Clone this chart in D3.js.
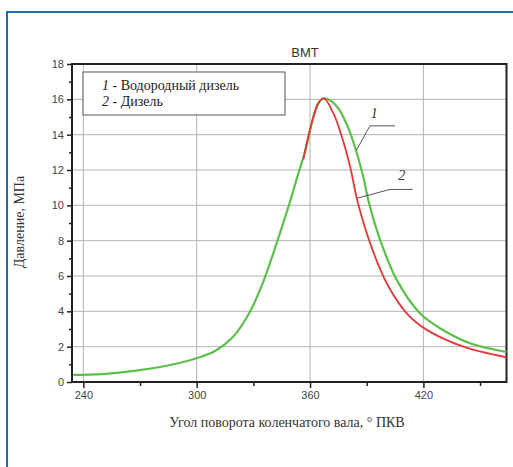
<!DOCTYPE html>
<html>
<head>
<meta charset="utf-8">
<script src="https://cdn.jsdelivr.net/npm/d3@7"></script>
<style>
  body { margin: 0; background: #fff; }
  .tick text { font-family: "Liberation Sans", Arial, sans-serif; font-size: 11px; fill: #444; }
</style>
</head>
<body>
<svg id="chart" width="513" height="467"></svg>
<script>
// hydrogen diesel (1), angle deg / pressure MPa
var angle1 = [234.7, 250, 268, 286, 300, 310.6, 319.4, 328.2, 335, 339, 344, 349.4, 353.8, 357.8, 361.8, 365.3, 368, 374.2, 379.4, 383.8, 388.2, 391.3, 397.1, 405.9, 418.2, 428.8, 444.7, 464];
var press1 = [0.40, 0.45, 0.64, 0.96, 1.34, 1.81, 2.57, 3.98, 5.6, 6.8, 8.4, 10.2, 11.8, 13.2, 15.0, 15.9, 16.05, 15.6, 14.6, 13.3, 11.6, 10.1, 8.05, 5.78, 3.89, 3.04, 2.19, 1.70];
// diesel (2), only where it differs from 1
var angle2 = [356.5, 358, 361, 364.4, 367.4, 372.4, 376.8, 381.2, 385.2, 391.8, 400.6, 411.2, 421.8, 441.2, 464];
var press2 = [12.6, 13.4, 14.7, 15.8, 16.05, 15.2, 13.9, 12.2, 10.2, 7.86, 5.59, 3.89, 2.95, 2.0, 1.40];

var xTicks = [240, 300, 360, 420];
var yTicks = [0, 2, 4, 6, 8, 10, 12, 14, 16, 18];

// leader lines (angle, MPa) and label position
var notes = [
  {label: "1", pts: [[384.5, 13.1], [391.7, 14.5], [405, 14.5]], at: [394, 14.95]},
  {label: "2", pts: [[384.8, 10.4], [402.3, 10.9], [414.4, 10.9]], at: [408.6, 11.45]}
];

var svg = d3.select("#chart");
var plotL = 72, plotR = 506.5, plotT = 64, plotB = 382;

// blue frame
svg.append("rect")
  .attr("x", 7).attr("y", 12).attr("width", 520).attr("height", 470)
  .attr("fill", "none").attr("stroke", "#1f6fa3").attr("stroke-width", 2);

var x = d3.scaleLinear().domain([234, 464]).range([plotL, plotR]);
var y = d3.scaleLinear().domain([0, 18]).range([plotB, plotT]);

// grid
svg.append("g").selectAll("line").data(xTicks).join("line")
  .attr("x1", d => x(d)).attr("x2", d => x(d))
  .attr("y1", plotT).attr("y2", plotB)
  .attr("stroke", "#b4b4b4").attr("stroke-width", 1);
svg.append("g").selectAll("line").data(yTicks.filter(d => d > 0 && d < 18)).join("line")
  .attr("x1", plotL).attr("x2", plotR)
  .attr("y1", d => y(d)).attr("y2", d => y(d))
  .attr("stroke", "#b4b4b4").attr("stroke-width", 1);

// axes
svg.append("g").attr("transform", "translate(0," + plotB + ")")
  .call(d3.axisBottom(x).tickValues(xTicks).tickSize(6).tickPadding(3));
svg.append("g").attr("transform", "translate(0," + plotB + ")")
  .call(d3.axisBottom(x).tickValues([270, 330, 390, 450]).tickSize(4).tickFormat(""));
svg.append("g").attr("transform", "translate(" + plotL + ",0)")
  .call(d3.axisLeft(y).tickValues(yTicks).tickSize(5).tickPadding(3));
svg.append("g").attr("transform", "translate(" + plotL + ",0)")
  .call(d3.axisLeft(y).tickValues(d3.range(1, 18, 2)).tickSize(3).tickFormat(""));
svg.selectAll(".domain").remove();
svg.selectAll(".tick line").attr("stroke", "#222").attr("stroke-width", 1.5);

// plot frame
svg.append("rect")
  .attr("x", plotL).attr("y", plotT).attr("width", plotR - plotL).attr("height", plotB - plotT)
  .attr("fill", "none").attr("stroke", "#222").attr("stroke-width", 2);

// curves
var line = d3.line().x(d => x(d[0])).y(d => y(d[1])).curve(d3.curveCatmullRom.alpha(0.5));
svg.append("path").datum(d3.zip(angle1, press1))
  .attr("d", line).attr("fill", "none").attr("stroke", "#5cbf4a").attr("stroke-width", 2.2);
svg.append("path").datum(d3.zip(angle2, press2))
  .attr("d", line).attr("fill", "none").attr("stroke", "#e03a3a").attr("stroke-width", 1.8);

// leader lines
notes.forEach(function(n) {
  svg.append("path")
    .attr("d", d3.line().x(d => x(d[0])).y(d => y(d[1]))(n.pts))
    .attr("fill", "none").attr("stroke", "#555").attr("stroke-width", 1);
  svg.append("text")
    .attr("x", x(n.at[0])).attr("y", y(n.at[1]))
    .attr("text-anchor", "middle")
    .style("font-family", "Liberation Serif, Times New Roman, serif")
    .style("font-style", "italic").style("font-size", "14px").style("fill", "#333")
    .text(n.label);
});

// title
svg.append("text").attr("x", 305).attr("y", 57).attr("text-anchor", "middle")
  .style("font-family", "Liberation Sans, Arial, sans-serif").style("font-size", "13px").style("fill", "#333")
  .text("ВМТ");

// legend
svg.append("rect").attr("x", 83).attr("y", 72).attr("width", 202).attr("height", 43)
  .attr("fill", "#fff").attr("stroke", "#555").attr("stroke-width", 1);
var legend = [["1", " - Водородный дизель"], ["2", " - Дизель"]];
legend.forEach(function(l, i) {
  var t = svg.append("text").attr("x", 102).attr("y", 90 + i * 16)
    .style("font-family", "Liberation Serif, Times New Roman, serif").style("font-size", "14px").style("fill", "#222");
  t.append("tspan").style("font-style", "italic").text(l[0]);
  t.append("tspan").text(l[1]);
});

// axis labels
svg.append("text").attr("x", 287).attr("y", 427).attr("text-anchor", "middle")
  .style("font-family", "Liberation Serif, Times New Roman, serif").style("font-size", "14px").style("fill", "#333")
  .text("Угол поворота коленчатого вала, ° ПКВ");
svg.append("text").attr("transform", "translate(24,222) rotate(-90)").attr("text-anchor", "middle")
  .style("font-family", "Liberation Serif, Times New Roman, serif").style("font-size", "14px").style("fill", "#333")
  .text("Давление, МПа");
</script>
</body>
</html>
